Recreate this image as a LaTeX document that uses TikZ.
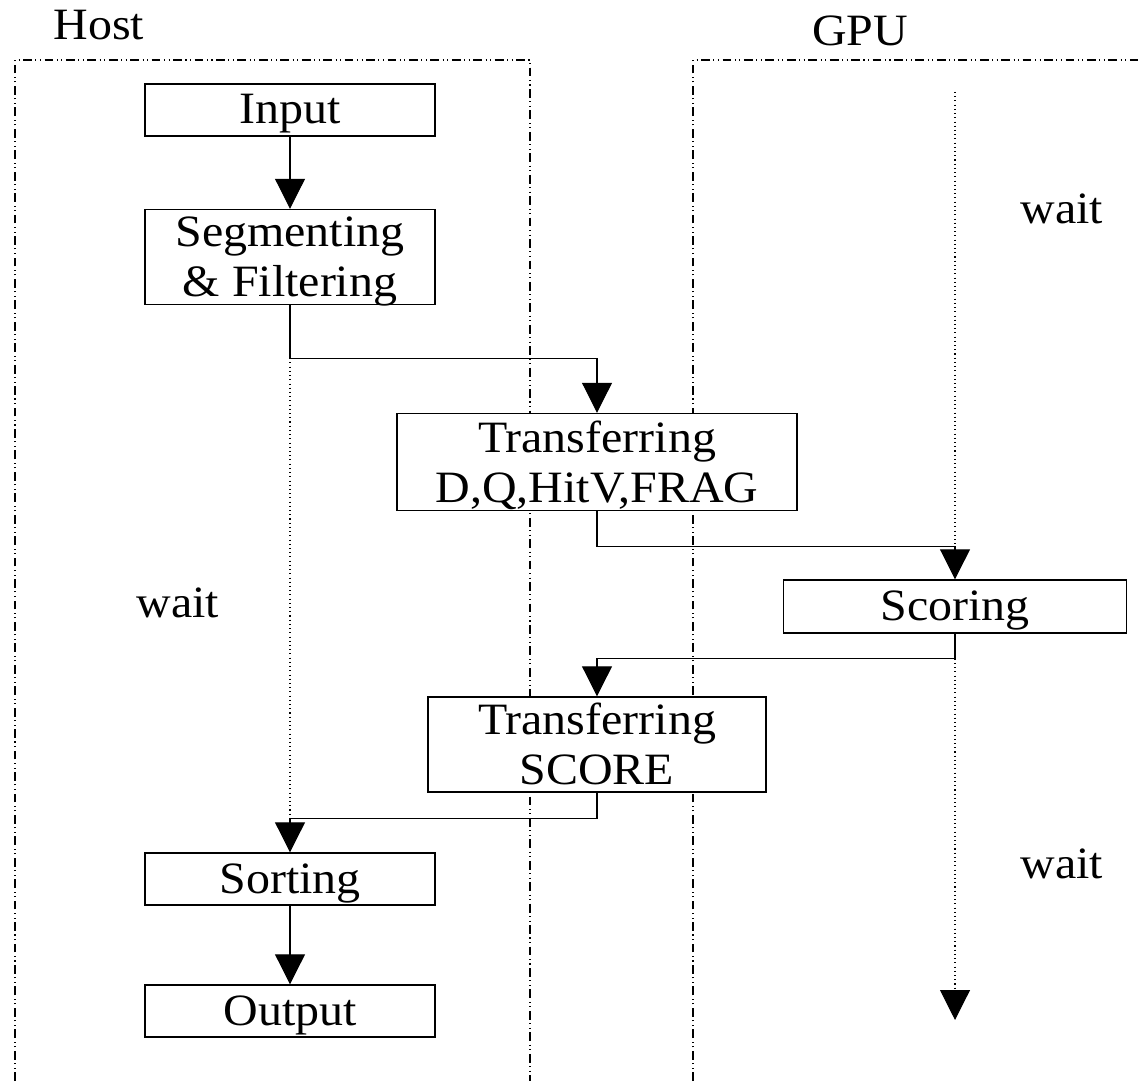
\documentclass[tikz,border=0pt]{standalone}
\usepackage{fontspec}
\setmainfont[FakeStretch=1.07]{Liberation Serif}
\usepackage{tikz}
\usetikzlibrary{arrows.meta, positioning}

\begin{document}
\begin{tikzpicture}[
  box/.style={draw, fill=white, line width=0.8pt, align=center, inner sep=0pt,
              font=\fontsize{25.5}{28.5}\selectfont, text depth=0.08em,
              minimum width=#1, minimum height=1.04cm},
  box/.default=5.8cm,
  lbl/.style={font=\fontsize{25.5}{28.5}\selectfont, inner sep=0pt},
  arr/.style={-{Triangle[length=0.6cm,width=0.6cm]}, line width=0.6pt},
  lane/.style={line width=0.6pt, dash pattern=on 5pt off 2pt on 0.6pt off 2pt on 0.6pt off 2pt},
  idle/.style={line width=0.6pt, dash pattern=on 0.6pt off 1.8pt}
]
  \useasboundingbox (0,0) rectangle (22.76,21.62);

  % lanes
  \draw[lane] (0.3,0) -- (0.3,20.42) -- (10.6,20.42) -- (10.6,0);
  \draw[lane] (13.86,0) -- (13.86,20.42) -- (22.76,20.42);
  \node[lbl] (host) at (1.98,21.12) {Host};
  \node[lbl] (gpu) at (17.2,21.0) {GPU};

  % steps
  \node[box] (input) at (5.8,19.42) {Input};
  \node[box, minimum height=1.9cm] (seg) at (5.8,16.48) {Segmenting\\\& Filtering};
  \node[box=8cm, minimum height=1.94cm] (tr1) at (11.94,12.38) {Transferring\\D,Q,HitV,FRAG};
  \node[box=6.86cm, minimum height=1.06cm] (score) at (19.1,9.49) {Scoring};
  \node[box=6.76cm, minimum height=1.9cm] (tr2) at (11.94,6.73) {Transferring\\SCORE};
  \node[box] (sort) at (5.8,4.04) {Sorting};
  \node[box] (output) at (5.8,1.4) {Output};

  \node[lbl] (wait1) at (21.24,17.44) {wait};
  \node[lbl] (wait2) at (3.56,9.56) {wait};
  \node[lbl] (wait3) at (21.24,4.34) {wait};

  \coordinate (gtop) at (19.1,19.78);
  \coordinate (gend) at (19.1,1.22);

  \draw[arr] (input) -- (seg);
  \draw[arr] (seg.south) -- ++(0,-1.06) coordinate (h1) -| (tr1.north);
  \draw[arr] (tr1.south) -- ++(0,-0.7) coordinate (g1) -| (score.north);
  \draw[arr] (score.south) -- ++(0,-0.5) coordinate (g2) -| (tr2.north);
  \draw[arr] (tr2.south) -- ++(0,-0.52) coordinate (h2) -| (sort.north);
  \draw[arr] (sort) -- (output);

  % waiting
  \draw[idle] (h1) -- (h1 |- h2);
  \draw[idle] (gtop) -- (gtop |- g1);
  \draw[idle, -{Triangle[length=0.6cm,width=0.6cm]}] (g2) -- (gend);
\end{tikzpicture}
\end{document}
